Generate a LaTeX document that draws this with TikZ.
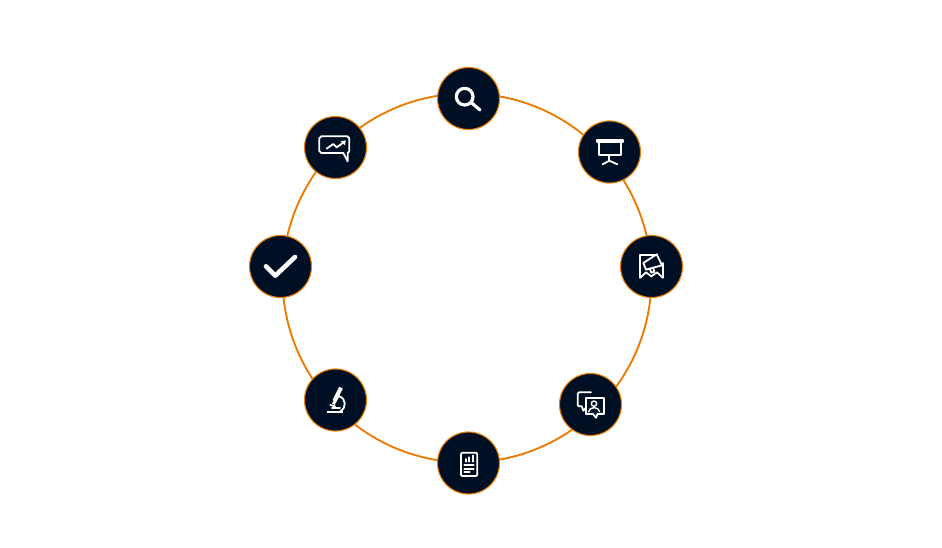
\documentclass[tikz,border=0pt]{standalone}
\definecolor{ringorange}{HTML}{EA7D05}
\definecolor{navy}{HTML}{001024}
\tikzset{
  ringline/.style={circle,draw=ringorange,line width=1.9pt,fill=none,minimum size=369pt,inner sep=0pt},
  badge/.style={circle,draw=ringorange,line width=1.1pt,fill=navy,minimum size=62pt,inner sep=0pt},
  icon/.style={draw=white,line width=1.8pt,line cap=round,line join=round},
  iconbold/.style={draw=white,line width=3.2pt,line cap=round,line join=round},
  iconthin/.style={draw=white,line width=1.4pt,line cap=round,line join=round},
  crop/.style={x=0.3333pt,y=-0.3333pt}
}
\begin{document}
\begin{tikzpicture}[x=1pt,y=-1pt]
\useasboundingbox (0,0) rectangle (942,548);
\fill[white] (0,0) rectangle (942,548);
\node[ringline] (ring) at (467,278) {};
\node[badge] (search) at (468.5,98.5) {};
\node[badge] (board) at (609.5,152) {};
\node[badge] (mega) at (651.5,266.5) {};
\node[badge] (chat) at (590.5,404.5) {};
\node[badge] (doc) at (468.5,463) {};
\node[badge] (micro) at (335.5,400) {};
\node[badge] (check) at (280.5,266.5) {};
\node[badge] (chart) at (335.5,147.5) {};
% search
\begin{scope}[shift={(430,60)},crop]
\draw[iconbold] (104,110) circle (25);
\draw[iconbold] (124,128) -- (150,150);
\end{scope}
% presentation board
\begin{scope}[shift={(570,112)},crop]
\draw[icon] (81,84) rectangle (158,91);
\draw[icon] (86,91) -- (86,130) -- (152,130) -- (152,91);
\draw[icon] (118,130) -- (118,148);
\draw[icon] (98,157) -- (118,146) -- (142,157);
\end{scope}
% megaphone on stage
\begin{scope}[shift={(612,227)},crop]
\draw[icon] (130,84) -- (85,84) -- (85,152);
\draw[icon] (152,108) -- (152,152);
\draw[icon] (94,108) -- (134,82) -- (150,115) -- (102,128) -- cycle;
\draw[icon] (113,125) -- (118,137) -- (127,134) -- (123,122);
\draw[icon] (85,152) -- (102,136) -- (118,148) -- (135,136) -- (152,152);
\end{scope}
% chat with person
\begin{scope}[shift={(551,365)},crop]
\draw[icon] (120,82) -- (84,82) -- (80,86) -- (80,120) -- (84,124) -- (92,124) -- (97,137) -- (103,130);
\draw[icon] (105,100) rectangle (158,146);
\draw[fill=navy,draw=none] (125,143) rectangle (142,150);
\draw[icon] (105,146) -- (125,146) -- (135,158) -- (140,146) -- (158,146);
\draw[iconthin] (129,116) circle (8);
\draw[iconthin] (113,140) .. controls (115,124) and (143,124) .. (146,140);
\end{scope}
% report
\begin{scope}[shift={(429,424)},crop]
\draw[icon,rounded corners=1.2pt] (96,86) rectangle (145,156);
\draw[icon] (111,105) -- (111,113);
\draw[icon] (121,100) -- (121,113);
\draw[icon] (132,95) -- (132,113);
\draw[icon] (106,123) -- (134,123);
\draw[icon] (106,134) -- (134,134);
\draw[icon] (106,144) -- (122,144);
\end{scope}
% microscope
\begin{scope}[shift={(296,361)},crop]
\draw[white,line width=2pt] (94,152) -- (142,152);
\draw[white,line width=4pt] (135,80) -- (115,120);
\draw[white,line width=3pt] (128,100) -- (112,130);
\draw[icon] (130,106) .. controls (150,112) and (152,140) .. (134,150);
\draw[icon] (103,132) -- (117,136);
\draw[icon] (108,140) -- (132,140);
\end{scope}
% check
\begin{scope}[shift={(240,227)},crop]
\draw[draw=white,line width=4.6pt,line cap=round,line join=round] (78,118) -- (106,146) -- (165,90);
\end{scope}
% chart bubble
\begin{scope}[shift={(296,108)},crop]
\draw[icon] (76,85) -- (154,85) -- (160,91) -- (160,130) -- (155,135) -- (155,160) -- (142,135) -- (76,135) -- (70,129) -- (70,91) -- cycle;
\draw[icon] (92,122) -- (112,108) -- (122,118) -- (146,101);
\fill[white] (134,100) -- (149,97) -- (147,112) -- cycle;
\end{scope}
\end{tikzpicture}
\end{document}
